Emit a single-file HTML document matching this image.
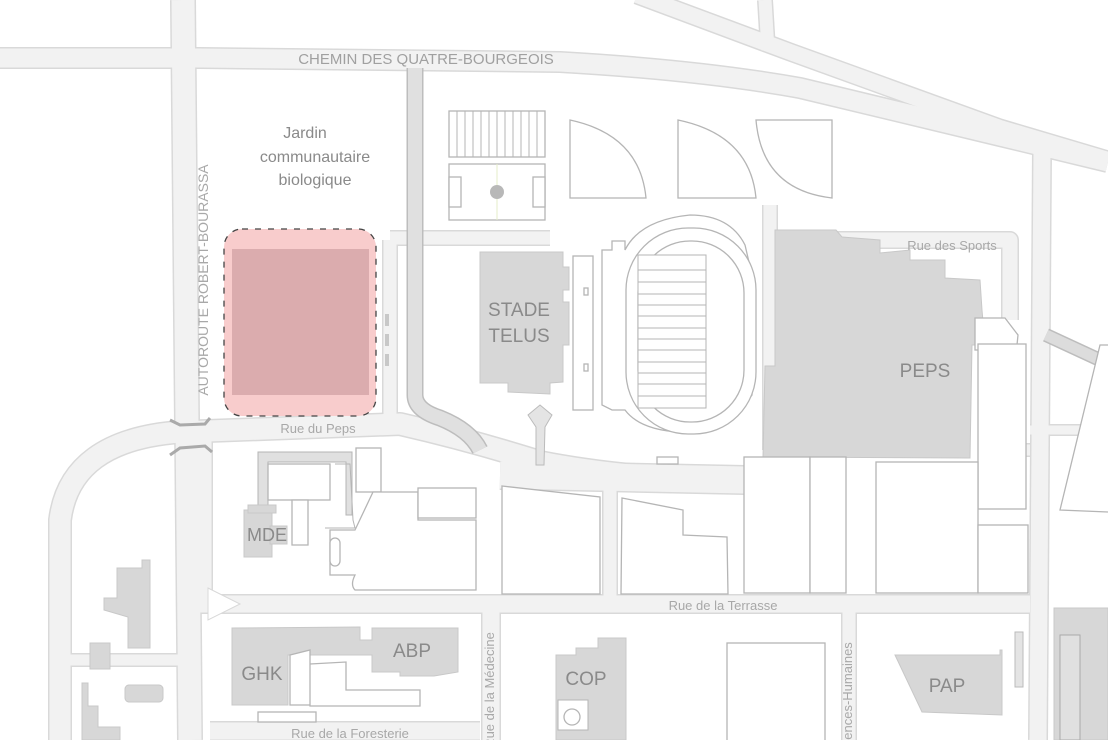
<!DOCTYPE html>
<html><head><meta charset="utf-8">
<style>
html,body{margin:0;padding:0;background:#fff;width:1108px;height:740px;overflow:hidden}
svg{display:block}
text{font-family:"Liberation Sans",sans-serif}
.rb{fill:none;stroke:#d9d9d9;stroke-linejoin:round}
.rf{fill:none;stroke:#f2f2f2;stroke-linejoin:round}
.o{fill:#fff;stroke:#b5b5b5;stroke-width:1.3}
.b{fill:#d7d7d7;stroke:#c8c8c8;stroke-width:1}
.lbl{fill:#8a8a8a}
.rl{fill:#a8a8a8;font-size:13px}
</style></head><body>
<svg width="1108" height="740" viewBox="0 0 1108 740" xmlns="http://www.w3.org/2000/svg">
<g class="rb">
<path d="M0,58 L200,58 L560,62 Q700,70 800,88 L1000,136 L1108,162" stroke-width="22"/>
<path d="M637,-5 L790,52 L1000,128 L1108,160" stroke-width="19"/>
<path d="M765,0 L768,50" stroke-width="16"/>
<path d="M183,0 L190,740" stroke-width="26"/>
<path d="M60,740 L60,520 Q70,440 180,432 L400,424 Q470,440 540,462 Q620,478 740,482" stroke-width="24"/>
<path d="M200,604 L1030,604" stroke-width="20"/>
<path d="M210,731 L480,731" stroke-width="20"/>
<path d="M491,612 L491,740" stroke-width="20"/>
<path d="M849,612 L849,740" stroke-width="16"/>
<path d="M1042,150 L1038,740" stroke-width="20"/>
<path d="M205,440 L205,600" stroke-width="16"/>
<path d="M60,660 L190,660" stroke-width="14"/>
<path d="M390,240 L390,425" stroke-width="16"/>
<path d="M390,238 L550,238" stroke-width="16"/>
<path d="M610,485 L610,600" stroke-width="16"/>
<path d="M500,475 L745,480" stroke-width="30"/>
<path d="M770,205 L770,450" stroke-width="16"/>
<path d="M770,240 L1010,240 L1010,320" stroke-width="18"/>
<path d="M1000,450 L1030,450" stroke-width="14"/>
<path d="M1030,430 L1108,430" stroke-width="12"/>
</g>
<g class="rf">
<path d="M0,58 L200,58 L560,62 Q700,70 800,88 L1000,136 L1108,162" stroke-width="19"/>
<path d="M637,-5 L790,52 L1000,128 L1108,160" stroke-width="16"/>
<path d="M765,0 L768,50" stroke-width="13"/>
<path d="M183,0 L190,740" stroke-width="23"/>
<path d="M60,740 L60,520 Q70,440 180,432 L400,424 Q470,440 540,462 Q620,478 740,482" stroke-width="21"/>
<path d="M200,604 L1030,604" stroke-width="17"/>
<path d="M210,731 L480,731" stroke-width="17"/>
<path d="M491,612 L491,740" stroke-width="17"/>
<path d="M849,612 L849,740" stroke-width="13"/>
<path d="M1042,150 L1038,740" stroke-width="17"/>
<path d="M205,440 L205,600" stroke-width="13"/>
<path d="M60,660 L190,660" stroke-width="11"/>
<path d="M390,240 L390,425" stroke-width="13"/>
<path d="M390,238 L550,238" stroke-width="13"/>
<path d="M610,485 L610,600" stroke-width="13"/>
<path d="M500,475 L745,480" stroke-width="27"/>
<path d="M770,205 L770,450" stroke-width="13"/>
<path d="M770,240 L1010,240 L1010,320" stroke-width="15"/>
<path d="M1000,450 L1030,450" stroke-width="11"/>
<path d="M1030,430 L1108,430" stroke-width="9"/>
</g>
<path d="M415,68 L415,395 Q415,410 440,418 Q470,430 480,450" fill="none" stroke="#bdbdbd" stroke-width="17" stroke-linejoin="round"/>
<path d="M415,68 L415,395 Q415,410 440,418 Q470,430 480,450" fill="none" stroke="#e0e0e0" stroke-width="14" stroke-linejoin="round"/>
<path d="M1046,335 L1100,360" stroke="#bdbdbd" stroke-width="14"/>
<path d="M1046,335 L1100,360" stroke="#dcdcdc" stroke-width="11"/>
<path d="M170,420 L180,425 L205,424 L210,418" fill="none" stroke="#aaa" stroke-width="3"/>
<path d="M170,455 L180,448 L205,446 L212,452" fill="none" stroke="#aaa" stroke-width="3"/>
<rect x="224" y="229" width="152" height="187" rx="18" fill="#f8cccc" stroke="#444" stroke-width="1.3" stroke-dasharray="6,7"/>
<rect x="232" y="249" width="137" height="146" fill="#dbacae"/>
<g stroke="#c8c8c8" stroke-width="4"><line x1="387" y1="314" x2="387" y2="326"/><line x1="387" y1="334" x2="387" y2="346"/><line x1="387" y1="354" x2="387" y2="366"/></g>
<rect x="449" y="111" width="96" height="46" class="o"/>
<g stroke="#b5b5b5" stroke-width="1"><line x1="457" y1="111" x2="457" y2="157"/><line x1="465" y1="111" x2="465" y2="157"/><line x1="473" y1="111" x2="473" y2="157"/><line x1="481" y1="111" x2="481" y2="157"/><line x1="489" y1="111" x2="489" y2="157"/><line x1="497" y1="111" x2="497" y2="157"/><line x1="505" y1="111" x2="505" y2="157"/><line x1="513" y1="111" x2="513" y2="157"/><line x1="521" y1="111" x2="521" y2="157"/><line x1="529" y1="111" x2="529" y2="157"/><line x1="537" y1="111" x2="537" y2="157"/></g>
<rect x="449" y="164" width="96" height="56" class="o"/>
<line x1="497" y1="164" x2="497" y2="220" stroke="#e6ecc8"/>
<rect x="449" y="177" width="12" height="30" class="o"/><rect x="533" y="177" width="12" height="30" class="o"/>
<circle cx="497" cy="192" r="7" fill="#b8b8b8"/>
<path d="M570,120 L570,198 L646,198 Q640,135 570,120 Z" class="o"/>
<path d="M678,120 L678,198 L756,198 Q750,135 678,120 Z" class="o"/>
<path d="M756,120 L832,120 L832,198 Q762,190 756,120 Z" class="o"/>
<path d="M480,252 L563,252 L563,267 L569,267 L569,290 L563,290 L563,302 L569,302 L569,345 L563,345 L563,382 L550,383 L550,394 L508,392 L508,383 L480,383 Z" class="b"/>
<text x="519" y="316" text-anchor="middle" class="lbl" font-size="19">STADE</text>
<text x="519" y="342" text-anchor="middle" class="lbl" font-size="19">TELUS</text>
<rect x="573" y="256" width="20" height="154" class="o"/>
<rect x="584" y="288" width="4" height="7" class="o"/><rect x="584" y="364" width="4" height="7" class="o"/>
<path d="M602,250 L612,250 L612,241 L625,241 L625,250 Q640,220 690,215 Q730,215 745,245 L752,275 L752,395 L740,410 Q720,430 680,432 Q640,430 625,410 L612,410 L602,405 Z" class="o"/>
<rect x="626" y="228" width="130" height="206" rx="62" class="o"/>
<rect x="638" y="241" width="106" height="181" rx="52" class="o"/>
<rect x="638" y="255" width="68" height="153" fill="#fff" stroke="#b5b5b5"/>
<g stroke="#b5b5b5"><line x1="638" y1="270" x2="706" y2="270"/><line x1="638" y1="282" x2="706" y2="282"/><line x1="638" y1="294" x2="706" y2="294"/><line x1="638" y1="305" x2="706" y2="305"/><line x1="638" y1="316" x2="706" y2="316"/><line x1="638" y1="328" x2="706" y2="328"/><line x1="638" y1="339" x2="706" y2="339"/><line x1="638" y1="350" x2="706" y2="350"/><line x1="638" y1="362" x2="706" y2="362"/><line x1="638" y1="373" x2="706" y2="373"/><line x1="638" y1="384" x2="706" y2="384"/><line x1="638" y1="396" x2="706" y2="396"/></g>
<path d="M528,415 L540,405 L552,415 L545,427 L544,465 L536,465 L536,427 Z" fill="#e4e4e4" stroke="#bbb"/>
<rect x="657" y="457" width="21" height="7" class="o"/>
<path d="M775,230 L836,230 L842,237 L880,240 L880,253 L910,250 L910,260 L945,260 L945,278 L980,280 L982,310 L985,345 L972,345 L970,458 L763,457 L765,366 L775,366 Z" class="b"/>
<text x="925" y="377" text-anchor="middle" class="lbl" font-size="19">PEPS</text>
<path d="M975,318 L1005,318 L1018,335 L1017,345 L998,345 L985,350 L975,350 Z" class="o"/>
<rect x="978" y="344" width="48" height="165" class="o"/>
<path d="M1108,345 L1100,345 L1060,510 L1108,512" class="o"/>
<rect x="744" y="457" width="66" height="136" class="o"/>
<rect x="810" y="457" width="36" height="136" class="o"/>
<rect x="876" y="462" width="102" height="131" class="o"/>
<rect x="978" y="525" width="50" height="68" class="o"/>
<path d="M502,486 L600,497 L600,594 L502,594 Z" class="o"/>
<path d="M622,498 L683,510 L683,535 L727,537 L728,594 L621,594 Z" class="o"/>
<path d="M258,452 L352,452 L352,515 L346,515 L346,462 L268,462 L268,508 L258,508 Z" fill="#e0e0e0" stroke="#b5b5b5"/>
<rect x="244" y="510" width="28" height="47" class="b"/>
<rect x="248" y="505" width="28" height="8" class="b"/>
<rect x="270" y="526" width="17" height="18" class="b"/>
<text x="267" y="541" text-anchor="middle" class="lbl" font-size="18">MDE</text>
<rect x="268" y="464" width="62" height="36" class="o"/>
<path d="M292,500 L308,500 L308,545 L292,545 Z" class="o"/>
<path d="M335,464 L350,464 L353,520 L355,528 L325,528" fill="none" stroke="#b5b5b5"/>
<rect x="356" y="448" width="25" height="44" class="o"/>
<path d="M373,492 L418,492 L418,520 L476,520 L476,590 L355,590 Q350,585 355,575 L330,575 L330,530 L355,530 Z" class="o"/>
<rect x="418" y="488" width="58" height="30" class="o"/>
<rect x="330" y="538" width="10" height="28" rx="5" class="o"/>
<path d="M117,568 L142,568 L142,560 L150,560 L150,648 L128,648 L128,617 L104,610 L104,598 L117,598 Z" class="b"/>
<rect x="90" y="643" width="20" height="26" class="b"/>
<rect x="125" y="685" width="38" height="17" rx="4" class="b"/>
<path d="M82,683 L88,683 L88,706 L98,706 L98,727 L120,727 L120,740 L82,740 Z" class="b"/>
<path d="M208,588 L240,604 L208,620 Z" fill="#fff" stroke="#d9d9d9"/>
<path d="M232,628 L360,627 L360,640 L372,640 L372,628 L458,628 L458,672 L434,676 L400,676 L400,672 L372,672 L372,655 L288,655 L288,705 L232,705 Z" class="b"/>
<path d="M290,655 L310,650 L310,705 L290,705 Z M310,664 L346,662 L346,690 L420,690 L420,706 L310,706 Z" class="o"/>
<rect x="258" y="712" width="58" height="10" class="o"/>
<text x="262" y="680" text-anchor="middle" class="lbl" font-size="19">GHK</text>
<text x="412" y="657" text-anchor="middle" class="lbl" font-size="19">ABP</text>
<path d="M556,655 L576,655 L576,648 L598,648 L598,638 L626,638 L626,740 L556,740 Z" class="b"/>
<rect x="558" y="700" width="30" height="30" fill="#fff" stroke="#b5b5b5"/>
<circle cx="572" cy="717" r="8" class="o"/>
<text x="586" y="685" text-anchor="middle" class="lbl" font-size="19">COP</text>
<rect x="727" y="643" width="98" height="100" class="o"/>
<path d="M895,655 L1000,655 L1000,650 L1002,650 L1002,715 L922,712 Z" class="b"/>
<rect x="1015" y="632" width="8" height="55" fill="#e4e4e4" stroke="#bbb"/>
<text x="947" y="692" text-anchor="middle" class="lbl" font-size="19">PAP</text>
<path d="M1054,608 L1108,608 L1108,740 L1054,740 Z" class="b"/>
<path d="M1060,635 L1080,635 L1080,740 L1060,740 Z" fill="#e0e0e0" stroke="#aaa"/>
<text x="426" y="64" text-anchor="middle" fill="#a0a0a0" font-size="15">CHEMIN DES QUATRE-BOURGEOIS</text>
<text transform="translate(208,280) rotate(-90)" text-anchor="middle" fill="#a8a8a8" font-size="14">AUTOROUTE ROBERT-BOURASSA</text>
<text x="305" y="138" text-anchor="middle" class="lbl" font-size="16">Jardin</text>
<text x="315" y="162" text-anchor="middle" class="lbl" font-size="16">communautaire</text>
<text x="315" y="185" text-anchor="middle" class="lbl" font-size="16">biologique</text>
<text x="318" y="433" text-anchor="middle" class="rl">Rue du Peps</text>
<text x="952" y="250" text-anchor="middle" class="rl">Rue des Sports</text>
<text x="723" y="610" text-anchor="middle" class="rl">Rue de la Terrasse</text>
<text x="350" y="738" text-anchor="middle" class="rl">Rue de la Foresterie</text>
<text transform="translate(494,690) rotate(-90)" text-anchor="middle" class="rl" font-size="12">Rue de la Médecine</text>
<text transform="translate(852,700) rotate(-90)" text-anchor="middle" class="rl" font-size="12">Sciences-Humaines</text>
</svg>
</body></html>
